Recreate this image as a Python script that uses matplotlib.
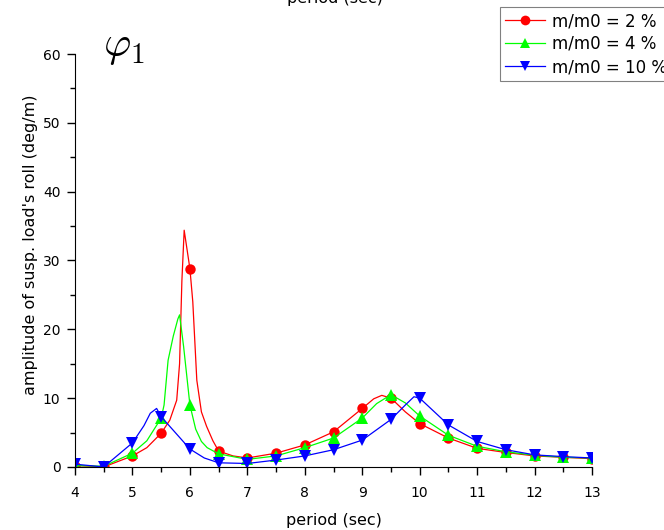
import numpy as np
import matplotlib.pyplot as plt
from matplotlib.ticker import MultipleLocator

plt.rcParams['font.family'] = ['DejaVu Sans']
plt.rcParams['mathtext.fontset'] = 'cm'

##############################################################################
#                     data
##############################################################################
# markers every 0.5 sec
period = [4, 4.5, 5, 5.5, 6, 6.5, 7, 7.5, 8, 8.5, 9, 9.5, 10,
          10.5, 11, 11.5, 12, 12.5, 13]
amp_2 = [0.2, 0.0, 1.6, 4.9, 28.8, 2.3, 1.3, 2.0, 3.2, 5.1, 8.5, 10.0, 6.3,
         4.2, 2.7, 2.1, 1.6, 1.4, 1.2]
amp_4 = [0.2, 0.1, 2.0, 7.1, 9.0, 1.9, 1.1, 1.6, 2.8, 4.2, 7.1, 10.5, 7.4,
         4.6, 3.0, 2.2, 1.7, 1.4, 1.3]
amp_10 = [0.4, 0.0, 3.5, 7.3, 2.6, 0.6, 0.5, 1.0, 1.6, 2.5, 3.9, 6.9, 10.0,
          6.1, 3.7, 2.5, 1.75, 1.5, 1.3]

# finer curves
line_x_2 = [4, 4.5, 5, 5.25, 5.5, 5.65, 5.77, 5.82, 5.86, 5.9, 6.0, 6.05,
            6.12, 6.2, 6.29, 6.4, 6.5, 6.75, 7, 7.5, 8, 8.5, 9, 9.2, 9.34,
            9.5, 9.75, 10, 10.5, 11, 11.5, 12, 12.5, 13]
line_y_2 = [0.2, 0.0, 1.6, 2.8, 4.9, 6.8, 9.7, 15.0, 27.0, 34.4, 28.8, 24.0,
            12.6, 8.0, 5.9, 3.8, 2.3, 1.6, 1.3, 2.0, 3.2, 5.1, 8.5, 9.9, 10.4,
            10.0, 8.0, 6.3, 4.2, 2.7, 2.1, 1.6, 1.4, 1.2]
line_x_4 = [4, 4.5, 5, 5.25, 5.5, 5.55, 5.62, 5.71, 5.79, 5.82, 5.89, 6.0,
            6.1, 6.2, 6.3, 6.5, 7, 7.5, 8, 8.5, 9, 9.25, 9.5, 9.75, 10,
            10.5, 11, 11.5, 12, 12.5, 13]
line_y_4 = [0.2, 0.1, 2.0, 3.8, 7.1, 9.0, 15.5, 19.0, 21.5, 22.1, 17.5, 9.0,
            5.5, 3.7, 2.8, 1.9, 1.1, 1.6, 2.8, 4.2, 7.1, 9.2, 10.5, 9.3, 7.4,
            4.6, 3.0, 2.2, 1.7, 1.4, 1.3]
line_x_10 = [4, 4.5, 5, 5.2, 5.31, 5.42, 5.5, 6, 6.25, 6.5, 7, 7.5, 8, 8.5,
             9, 9.5, 9.75, 9.9, 10, 10.5, 11, 11.5, 12, 12.5, 13]
line_y_10 = [0.4, 0.0, 3.5, 6.0, 7.8, 8.5, 7.3, 2.6, 1.3, 0.6, 0.5, 1.0, 1.6,
             2.5, 3.9, 6.9, 9.0, 10.2, 10.0, 6.1, 3.7, 2.5, 1.75, 1.5, 1.3]

labels = ['m/m0 = 2 %', 'm/m0 = 4 %', 'm/m0 = 10 %']

##############################################################################
#                                  PLOTTING
##############################################################################
fig = plt.figure(figsize=(6.64, 5.30), dpi=100)
ax = fig.add_axes([0.113, 0.119, 0.7786, 0.779])

series = [(line_x_2, line_y_2, amp_2, '#ff0000', 'o', 7.5),
          (line_x_4, line_y_4, amp_4, '#00ff00', '^', 8),
          (line_x_10, line_y_10, amp_10, '#0000ff', 'v', 8)]
handles = []
for (lx, ly, my, c, m, ms), lab in zip(series, labels):
    ax.plot(lx, ly, color=c, linewidth=0.9)
    ax.plot(period, my, linestyle='none', marker=m, color=c, markersize=ms,
            markeredgewidth=0)
    h, = ax.plot([], [], color=c, linewidth=0.9, marker=m, markersize=ms - 0.5,
                 markeredgewidth=0, label=lab)
    handles.append(h)

ax.set_xlim(4, 13)
ax.set_ylim(0, 60)
ax.xaxis.set_major_locator(MultipleLocator(1))
ax.xaxis.set_minor_locator(MultipleLocator(0.5))
ax.yaxis.set_major_locator(MultipleLocator(10))
ax.yaxis.set_minor_locator(MultipleLocator(5))
ax.tick_params(which='major', direction='out', length=5.5, width=1,
               labelsize=10)
ax.tick_params(axis='x', which='major', pad=8)
ax.tick_params(axis='y', which='major', pad=5)
ax.tick_params(which='minor', direction='out', length=3.5, width=1)
ax.spines['top'].set_visible(False)
ax.spines['right'].set_visible(False)
ax.set_xlabel('period (sec)', fontsize=11.5)
ax.set_ylabel("amplitude of susp. load's roll (deg/m)", fontsize=11.5)
ax.xaxis.set_label_coords(0.5, -0.111)
ax.yaxis.set_label_coords(-0.071, 0.5375)

ax.text(0.055, 1.02, r'$\varphi_1$', transform=ax.transAxes, fontsize=30,
        va='center', ha='left')

# label of the panel above, cut by the top edge
fig.text(0.505, 1 - 6 / 530, 'period (sec)', fontsize=11.5, ha='center',
         va='bottom')

leg = fig.legend(handles=handles, loc='upper left',
                 bbox_to_anchor=(500 / 664, 1 - 7 / 530), fontsize=12,
                 fancybox=False, edgecolor='gray', framealpha=1,
                 handlelength=2.4, handletextpad=0.4, borderpad=0.3,
                 labelspacing=0.3, borderaxespad=0)
leg.get_frame().set_linewidth(0.8)

plt.savefig('out.png', dpi=100)
